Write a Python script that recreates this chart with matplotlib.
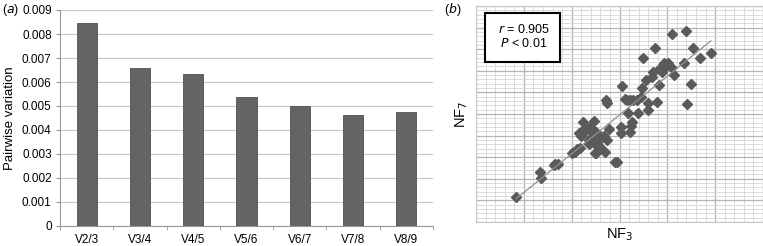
import numpy as np
import matplotlib.pyplot as plt
from matplotlib.patches import Rectangle

plt.rcParams['font.family'] = ['Liberation Sans', 'DejaVu Sans']

# panel (a) data
cats = ['V2/3', 'V3/4', 'V4/5', 'V5/6', 'V6/7', 'V7/8', 'V8/9']
pv = [0.00847, 0.00658, 0.00635, 0.00539, 0.00499, 0.00461, 0.00475]

# panel (b) data (NF3, NF7 in grid units)
nf3 = [0.84, 1.33, 1.36, 1.64, 1.71, 2.00, 2.06, 2.11, 2.16, 2.20,
       2.24, 2.27, 2.30, 2.37, 2.37, 2.39, 2.42, 2.45, 2.46, 2.50,
       2.50, 2.52, 2.54, 2.57, 2.60, 2.65, 2.67, 2.70, 2.71, 2.73,
       2.74, 2.79, 2.94, 3.03, 3.05, 3.03, 3.12, 3.17, 3.21, 3.24,
       3.27, 3.21, 3.38, 3.37, 3.45, 3.47, 3.49, 3.56, 3.59, 3.59,
       3.68, 3.70, 3.75, 3.79, 3.82, 3.84, 3.89, 3.93, 3.97, 4.01,
       4.10, 4.14, 4.35, 4.38, 4.42, 4.50, 4.54, 4.68, 4.91, 1.66,
       2.18, 2.36, 2.49, 2.91, 3.16, 3.28, 4.08]
nf7 = [1.14, 2.30, 2.05, 2.64, 2.70, 3.21, 3.26, 3.38, 4.10, 3.98,
       4.64, 4.34, 4.26, 3.80, 3.61, 4.41, 3.94, 4.10, 4.69, 4.18,
       3.18, 3.52, 3.64, 3.87, 3.49, 3.92, 4.00, 3.23, 5.65, 5.49,
       3.80, 4.32, 2.76, 4.41, 6.30, 4.10, 5.68, 5.03, 4.17, 4.44,
       4.64, 5.65, 5.03, 5.65, 5.80, 6.19, 7.58, 6.57, 5.49, 5.19,
       6.70, 6.96, 8.07, 5.57, 6.34, 7.14, 6.96, 7.35, 7.22, 7.38,
       8.69, 6.81, 7.35, 8.86, 5.46, 6.37, 8.07, 7.61, 7.84, 2.69,
       3.41, 3.64, 3.21, 2.79, 5.65, 5.65, 7.16]

W, H = 763, 246
fig = plt.figure(figsize=(W / 100, H / 100), dpi=100)

# ---- (a) bar chart
ax1 = fig.add_axes([60 / W, 20 / H, 373 / W, 216 / H])
x = np.arange(len(cats))
ax1.bar(x, pv, width=0.38, color='#646464', edgecolor='#505050', linewidth=0.6, zorder=3)
ax1.set_xlim(-0.5, len(cats) - 0.5)
ax1.set_ylim(0, 0.009)
ax1.set_yticks(np.arange(0, 0.0091, 0.001))
ax1.set_yticklabels(['0'] + ['%.3f' % v for v in np.arange(0.001, 0.0091, 0.001)], fontsize=8.5)
ax1.set_xticks(x)
ax1.set_xticklabels(cats, fontsize=8.5)
ax1.set_xticks(np.arange(-0.5, len(cats), 1.0), minor=True)
ax1.tick_params(axis='x', which='major', length=0, pad=6)
ax1.tick_params(axis='x', which='minor', length=3, color='#999999')
ax1.tick_params(axis='y', length=3, color='#999999', pad=3)
ax1.grid(axis='y', color='#c8c8c8', linewidth=0.8, zorder=0)
for s in ['top', 'right']:
    ax1.spines[s].set_visible(False)
ax1.spines['left'].set_color('#999999')
ax1.spines['bottom'].set_color('#999999')
ax1.set_ylabel('Pairwise variation', fontsize=9.5)
ax1.yaxis.set_label_coords(-0.118, 0.5)
fig.text(2 / W, 1 - 10 / H, r'($\it{a}$)', fontsize=9, va='center')

# ---- (b) scatter
ax2 = fig.add_axes([476 / W, 24 / H, 287 / W, 216 / H])
ax2.set_xlim(0, 6)
ax2.set_ylim(0, 10)
ax2.set_xticks(np.arange(0, 6.01, 1))
ax2.set_yticks(np.arange(0, 10.01, 1))
ax2.set_xticks(np.arange(0, 6.01, 0.2), minor=True)
ax2.set_yticks(np.arange(0, 10.01, 0.2), minor=True)
ax2.grid(which='minor', color='#d6d6d6', linewidth=0.6, zorder=0)
ax2.grid(which='major', color='#b4b4b4', linewidth=0.9, zorder=0)
ax2.tick_params(which='both', length=0, labelbottom=False, labelleft=False)
for s in ax2.spines.values():
    s.set_color('#c8c8c8')

ax2.plot(nf3, nf7, 'D', ms=5, color='#5a5a5a', mec='#5a5a5a', zorder=3, clip_on=False)
k, b = np.polyfit(nf3, nf7, 1)
xs = np.array([min(nf3), max(nf3)])
ax2.plot(xs, k * xs + b, color='#909090', linewidth=0.9, zorder=4)

ax2.add_patch(Rectangle((0.19, 7.41), 1.57, 2.27, facecolor='white',
                        edgecolor='black', linewidth=1.5, zorder=5))
ax2.text(1.0, 8.92, r'$\it{r}$ = 0.905', fontsize=9, ha='center', va='center', zorder=6)
ax2.text(1.0, 8.27, r'$\it{P}$ < 0.01', fontsize=9, ha='center', va='center', zorder=6)
ax2.set_xlabel('NF$_3$', fontsize=10.5, labelpad=3)
ax2.set_ylabel('NF$_7$', fontsize=10.5, labelpad=4)
fig.text(444 / W, 1 - 9 / H, r'($\it{b}$)', fontsize=9, va='center')

fig.savefig('out.png', dpi=100)
